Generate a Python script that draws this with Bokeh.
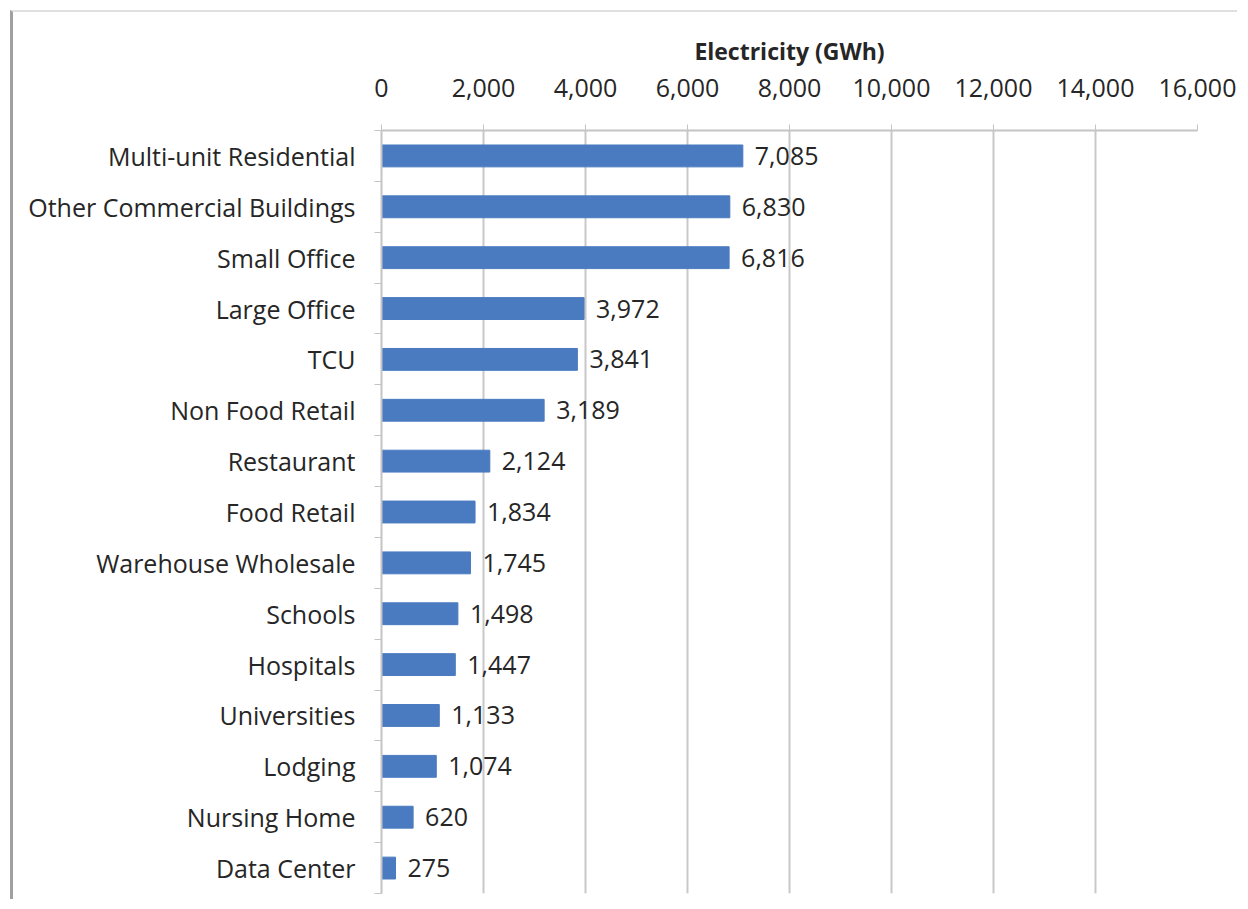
from bokeh.plotting import figure
from bokeh.models import Range1d, FixedTicker, NumeralTickFormatter, ColumnDataSource, LabelSet
from bokeh.core.properties import value
from bokeh.embed import file_html
from bokeh.resources import INLINE

categories = ["Multi-unit Residential", "Other Commercial Buildings", "Small Office",
              "Large Office", "TCU", "Non Food Retail", "Restaurant", "Food Retail",
              "Warehouse Wholesale", "Schools", "Hospitals", "Universities", "Lodging",
              "Nursing Home", "Data Center"]
values = [7085, 6830, 6816, 3972, 3841, 3189, 2124, 1834, 1745, 1498, 1447, 1133, 1074, 620, 275]
x_ticks = [0, 2000, 4000, 6000, 8000, 10000, 12000, 14000, 16000]
axis_title = "Electricity (GWh)"

FONT = "Open Sans"
n = len(categories)
ypos = [i + 0.5 for i in range(n)]
labels = [f"{v:,}" for v in values]
src = ColumnDataSource(dict(y=ypos, v=values, lab=labels, cat=categories))

p = figure(width=1227, height=889, output_backend="svg", toolbar_location=None,
           x_axis_location="above", x_range=Range1d(0, 16000), y_range=Range1d(n, 0),
           min_border_left=368, min_border_right=43, min_border_top=118, min_border_bottom=8)
p.outline_line_color = None

p.hbar(y="y", right="v", left=0, height=0.43, source=src, color="#4A7BC0")

lab = LabelSet(x="v", y="y", text="lab", source=src, x_offset=12, text_baseline="middle",
               text_font=value(FONT), text_font_size="25px", text_color="#262626")
p.add_layout(lab)

xa = p.xaxis[0]
xa.ticker = FixedTicker(ticks=x_ticks)
xa.formatter = NumeralTickFormatter(format="0,0")
xa.axis_label = axis_title
xa.axis_label_text_font = FONT
xa.axis_label_text_font_style = "bold"
xa.axis_label_text_font_size = "23px"
xa.axis_label_text_color = "#262626"
xa.axis_label_standoff = 9
xa.major_label_text_font = FONT
xa.major_label_text_font_size = "25px"
xa.major_label_text_color = "#262626"
xa.major_label_standoff = 28
xa.major_tick_out = 6
xa.major_tick_in = 0
xa.major_tick_line_color = "#c4c4c4"
xa.axis_line_color = "#c4c4c4"
xa.axis_line_width = 2
xa.minor_tick_line_color = None

ya = p.yaxis[0]
ya.ticker = FixedTicker(ticks=ypos, minor_ticks=list(range(n + 1)))
ya.major_label_overrides = {y: c for y, c in zip(ypos, categories)}
ya.major_tick_line_color = None
ya.major_tick_out = 0
ya.minor_tick_out = 7
ya.minor_tick_in = 0
ya.minor_tick_line_color = "#c4c4c4"
ya.axis_line_color = "#c4c4c4"
ya.axis_line_width = 2
ya.major_label_standoff = 19
ya.major_label_text_font = FONT
ya.major_label_text_font_size = "25px"
ya.major_label_text_color = "#262626"

p.xgrid.ticker = FixedTicker(ticks=x_ticks)
p.xgrid.grid_line_color = "#c8c8c8"
p.xgrid.grid_line_width = 2
p.ygrid.grid_line_color = None

p.styles = {"border-left": "3px solid #a0a0a0", "border-top": "2px solid #e0e0e0",
            "margin-left": "10px", "margin-top": "10px"}

open("out.html", "w").write(file_html(p, INLINE))
